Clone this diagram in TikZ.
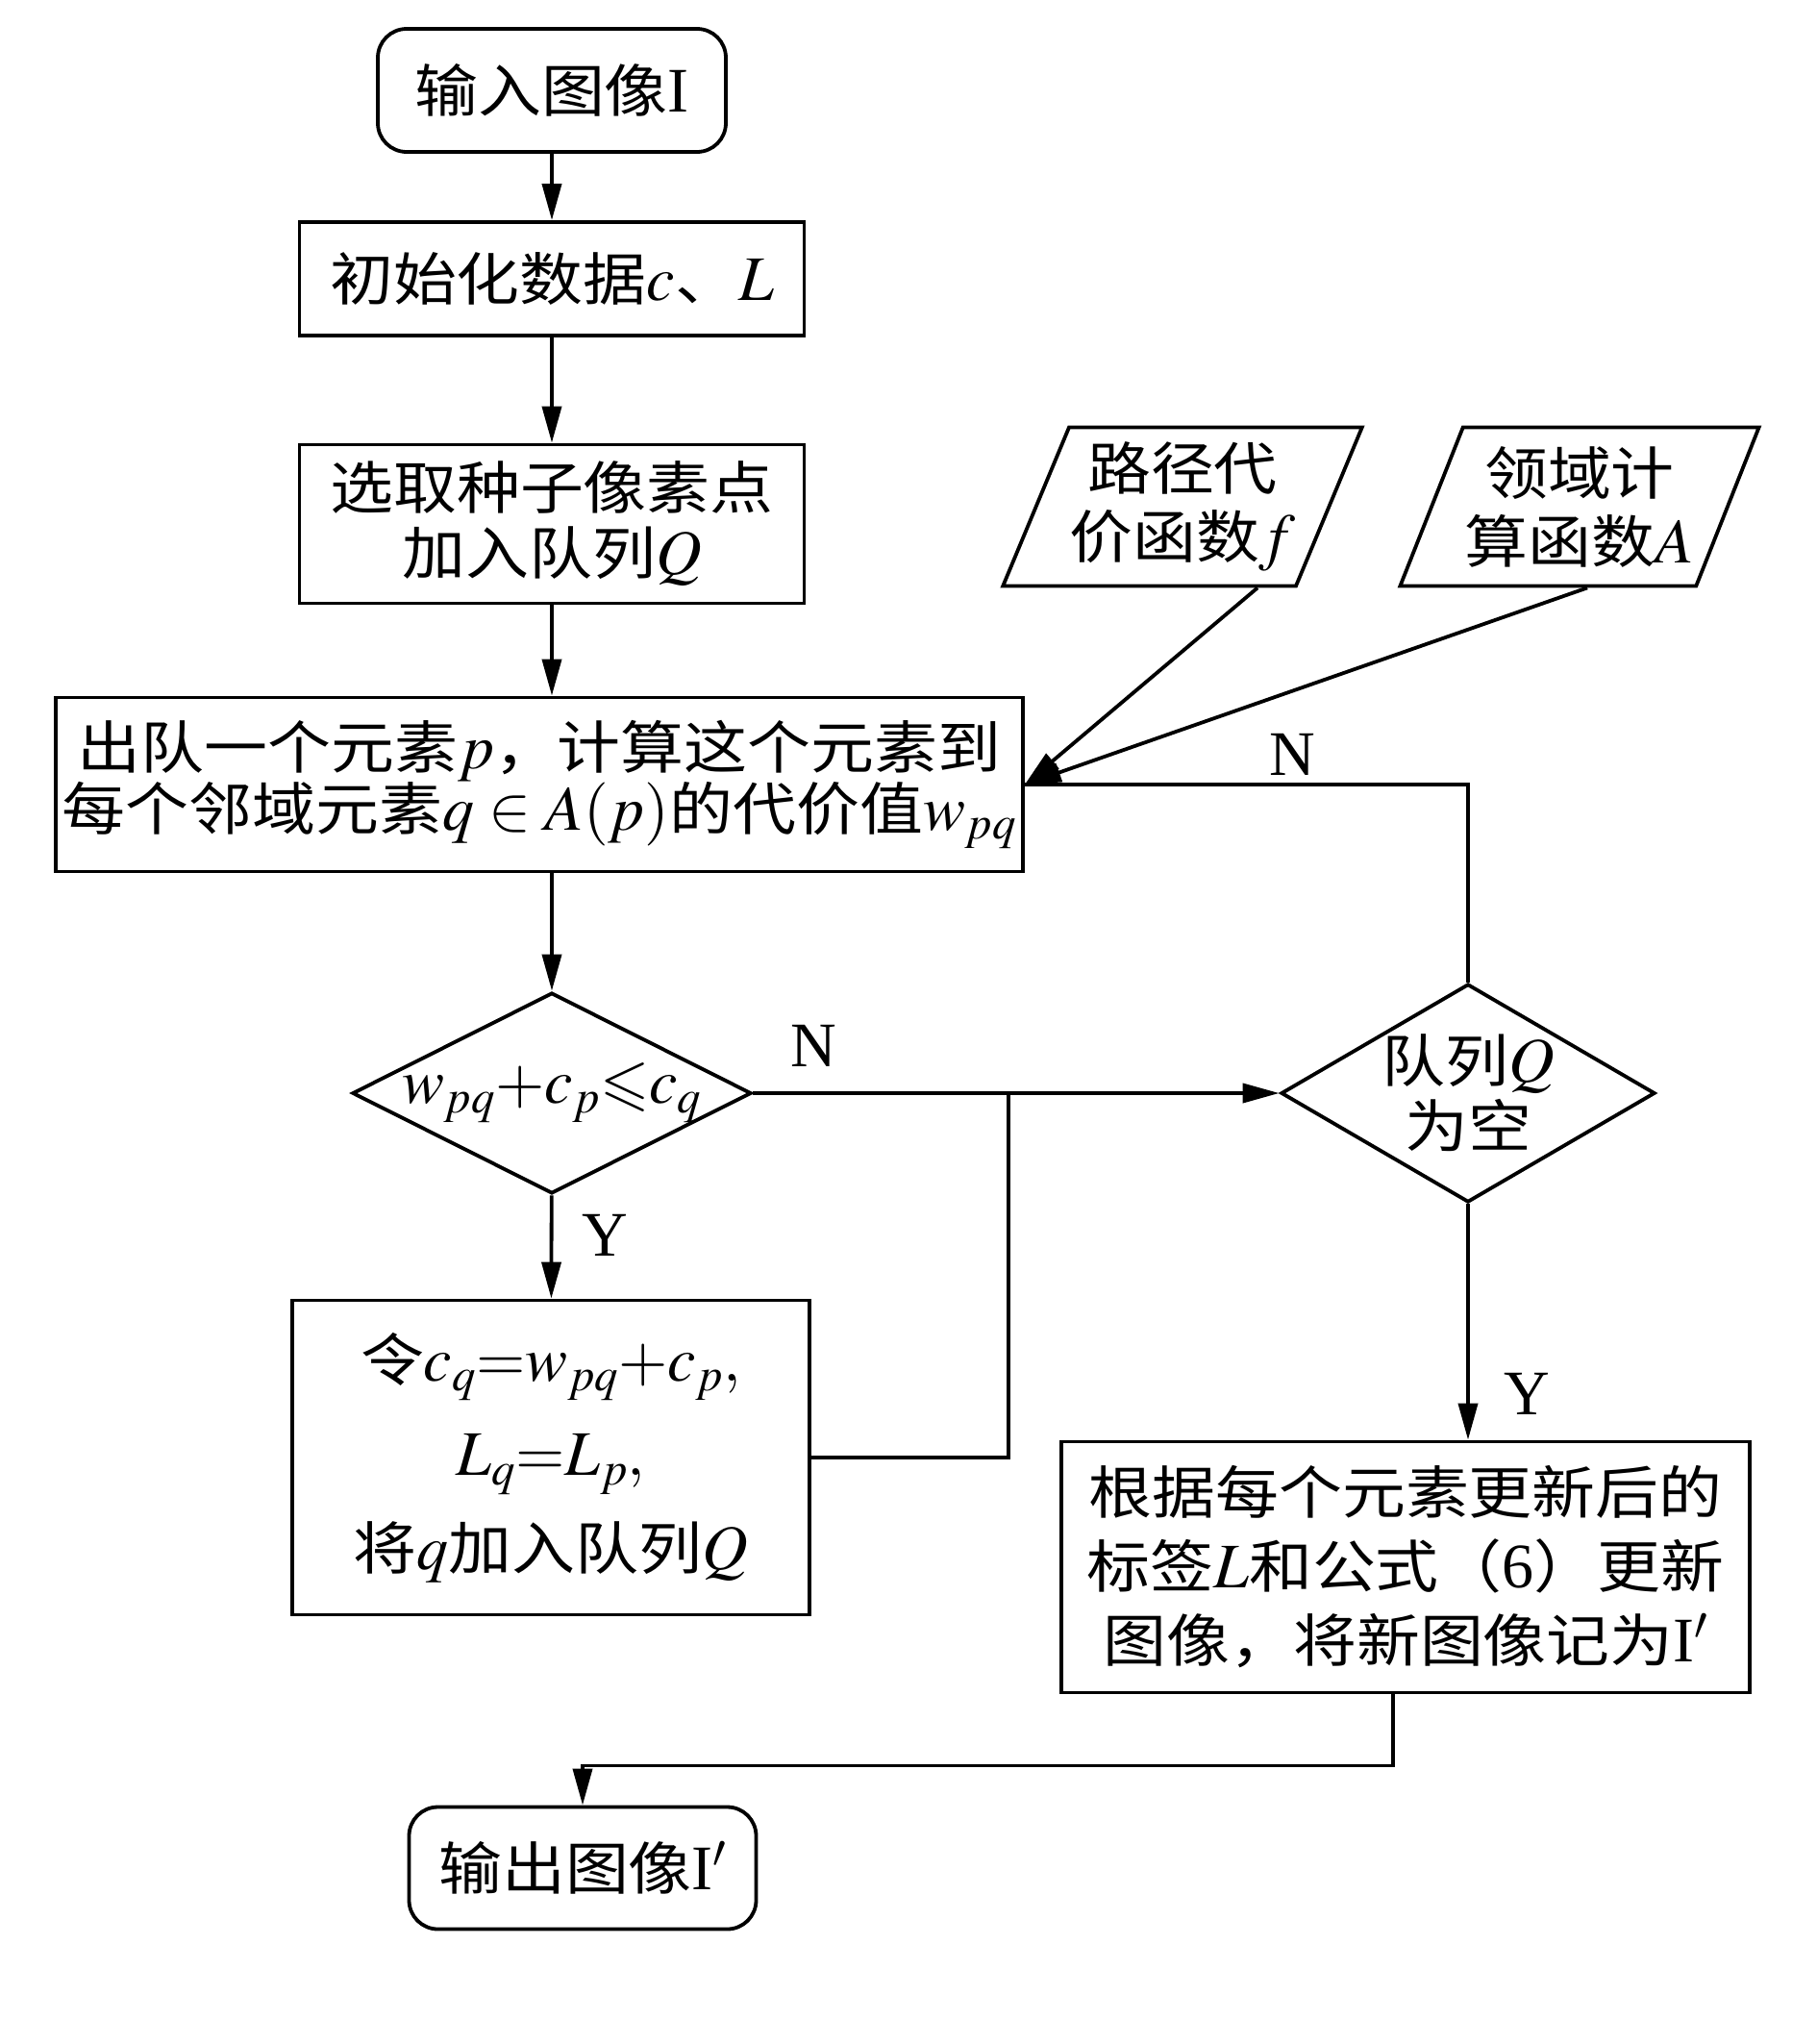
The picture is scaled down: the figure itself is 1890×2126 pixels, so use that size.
\documentclass[tikz,border=0pt]{standalone}
\usepackage{mathptmx}
\usepackage{amssymb}
\DeclareFontFamily{U}{msa}{}
\DeclareFontShape{U}{msa}{m}{n}{<-> msam10}{}
\usepackage[no-math]{fontspec}
\setmainfont[Scale=0.9,FakeStretch=1.11]{Noto Sans CJK SC}
\newfontfamily\tnr{Liberation Serif}
\usetikzlibrary{shapes.geometric,arrows.meta}

\begin{document}
\begin{tikzpicture}[x=1pt,y=-1pt,line width=3.8pt,
    box/.style={draw, rectangle, inner sep=0pt, align=center, font=\fontsize{66pt}{64pt}\selectfont},
    term/.style={box, rounded corners=30pt},
    decide/.style={draw, diamond, inner sep=0pt, align=center, font=\fontsize{66pt}{68pt}\selectfont},
    data/.style={draw, trapezium, trapezium left angle=63, trapezium right angle=117,
      trapezium stretches=true, inner sep=0pt, align=center, font=\fontsize{66pt}{71pt}\selectfont},
    yn/.style={inner sep=0pt, font=\tnr\fontsize{66pt}{66pt}\selectfont},
    arr/.style={-{Triangle[length=38pt,width=20pt]}}]
  \useasboundingbox (0,0) rectangle (1890,2126);

  % main column
  \node[term, minimum width=362pt, minimum height=128pt] (start) at (574,94) {输入图像{\tnr I}};
  \node[box, minimum width=525pt, minimum height=118pt] (init) at (574,290) {初始化数据$c$、$L$};
  \node[box, minimum width=525pt, minimum height=165pt, font=\fontsize{66pt}{68pt}\selectfont] (seed) at (574,545)
    {选取种子像素点\\加入队列$Q$};
  \node[box, minimum width=1006pt, minimum height=181pt] (deq) at (561,816)
    {出队一个元素$p$，计算这个元素到\\每个邻域元素$q\in A(p)$的代价值$w_{pq}$};
  \node[decide, aspect=1.99, inner xsep=-14pt, inner ysep=-4pt, minimum width=415pt, minimum height=209pt]
    (cmp) at (574,1137) {$w_{pq}{+}c_p{\leqslant}c_q$};
  \node[box, minimum width=538pt, minimum height=327pt, font=\fontsize{66pt}{98pt}\selectfont] (upd) at (573,1516)
    {令$c_q{=}w_{pq}{+}c_p,$\\$L_q{=}L_p,$\\将$q$加入队列$Q$};
  \node[term, minimum width=361pt, minimum height=127pt] (end) at (606,1943) {输出图像{\tnr I}$'$};

  % inputs and right branch
  \node[data, minimum width=375pt, minimum height=165pt] (cost) at (1230,527) {路径代\\价函数$f$};
  \node[data, minimum width=375pt, minimum height=165pt] (nbr) at (1643,527) {领域计\\算函数$A$};
  \node[decide, aspect=1.71, minimum width=389pt, minimum height=227pt] (empty) at (1527,1137) {队列$Q$\\为空};
  \node[box, minimum width=716pt, minimum height=261pt, font=\fontsize{66pt}{77pt}\selectfont] (res) at (1462,1630)
    {根据每个元素更新后的\\标签$L$和公式（{\tnr 6}）更新\\图像，将新图像记为{\tnr I}$'$};

  % branch labels
  \node[yn] (n1) at (846,1088) {N};
  \node[yn] (y1) at (629,1285) {Y};
  \node[yn] (n2) at (1344,785) {N};
  \node[yn] (y2) at (1588,1450) {Y};
  \coordinate (jn) at (1049,1137);

  \draw[arr] (start) -- (init);
  \draw[arr] (init) -- (seed);
  \draw[arr] (seed) -- (deq.north -| seed);
  \draw[arr] (deq.south -| cmp) -- (cmp);
  \draw[arr] (cmp) -- (upd);
  \draw[arr] (cmp) -- (empty);
  \draw (upd) -| (jn);
  \draw (empty) |- (deq.east);
  \draw[arr] (empty) -- (empty |- res.north);
  \draw[arr] ([xshift=-13pt]res.south) -- ++(0,74) -| (end);
  \draw[arr] ([xshift=78pt]cost.south) -- (deq.east);
  \draw[arr] ([xshift=8pt]nbr.south) -- (deq.east);
\end{tikzpicture}
\end{document}
